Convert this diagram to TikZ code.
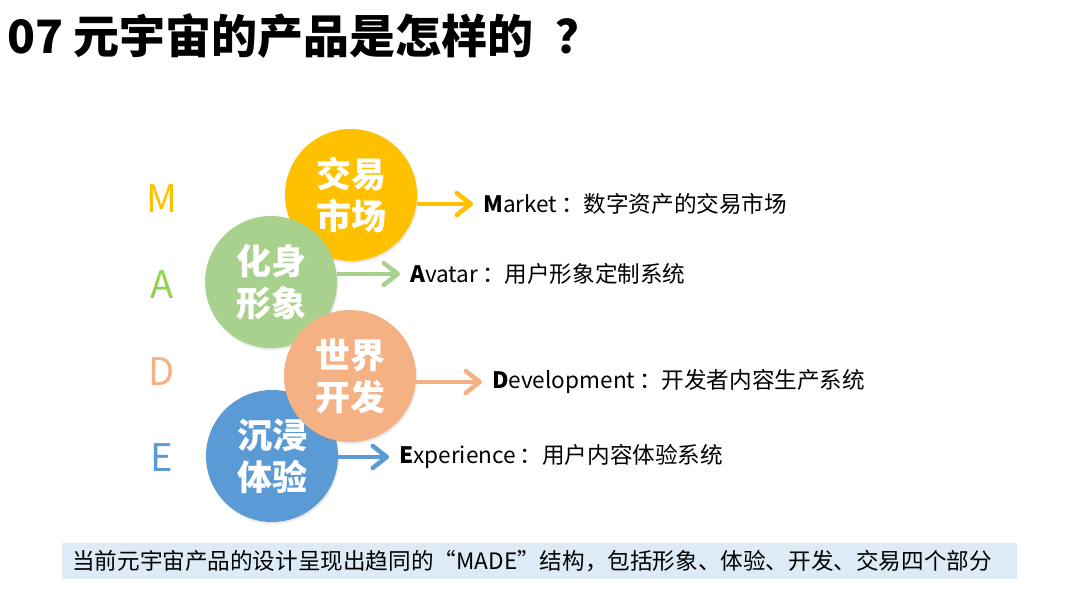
\documentclass[tikz,border=0pt]{standalone}
\usepackage{fontspec}
\setmainfont{Noto Sans CJK SC}
\usepackage{xcolor}
\usepackage{tikz}
\usetikzlibrary{arrows.meta, positioning, shadows}
\definecolor{madeyellow}{HTML}{FFC000}
\definecolor{madegreen}{HTML}{A9D18E}
\definecolor{madelime}{HTML}{92D050}
\definecolor{madeorange}{HTML}{F4B183}
\definecolor{madeblue}{HTML}{5B9BD5}
\definecolor{barblue}{HTML}{DEEBF7}
\tikzset{
  bubble/.style={circle, minimum size=132pt, inner sep=0pt, align=center,
                 text=white, font=\fontsize{35}{42}\selectfont\bfseries,
                 drop shadow={shadow xshift=1pt, shadow yshift=-2pt, opacity=0.18}},
  letter/.style={font=\fontsize{38}{38}\selectfont, inner sep=0pt},
  desc/.style={anchor=west, inner sep=0pt, font=\fontsize{22.6}{22.6}\selectfont},
  pointer/.style={-{Straight Barb[length=14pt, width=22pt, line width=4.5pt, round]},
                  line width=4.5pt, shorten >=10pt},
}
\begin{document}
\begin{tikzpicture}[x=1pt, y=1pt]
  \useasboundingbox (0,0) rectangle (1080,607);
  \node[anchor=west, inner sep=0pt, font=\fontsize{46}{46}\selectfont\bfseries] (title)
    at (7,571) {07 元宇宙的产品是怎样的\hspace{22pt}？};

  % four bubbles
  \node[bubble, fill=madeyellow] (market) at (351,412) {交易\\市场};
  \node[bubble, fill=madeblue] (exper) at (272,151) {沉浸\\体验};
  \node[bubble, fill=madegreen] (avatar) at (271,325) {化身\\形象};
  \node[bubble, fill=madeorange] (devel) at (350,231) {世界\\开发};

  % letters
  \node[letter, text=madeyellow] (m) at (162,408) {M};
  \node[letter, text=madelime] (a) at (162,322) {A};
  \node[letter, text=madeorange] (d) at (162,235) {D};
  \node[letter, text=madeblue] (e) at (162,149) {E};

  % descriptions
  \node[desc] (mtext) at (483,403) {\textbf{M}arket\,：数字资产的交易市场};
  \node[desc] (atext) at (410,333) {\textbf{A}vatar\,：用户形象定制系统};
  \node[desc] (dtext) at (492,225) {\textbf{D}evelopment\,：开发者内容生产系统};
  \node[desc] (etext) at (399,150) {\textbf{E}xperience\,：用户内容体验系统};

  \draw[pointer, draw=madeyellow] (mtext.west -| market.east) -- (mtext.west);
  \draw[pointer, draw=madegreen] (atext.west -| avatar.east) -- (atext.west);
  \draw[pointer, draw=madeorange] (dtext.west -| devel.east) -- (dtext.west);
  \draw[pointer, draw=madeblue] (etext.west -| exper.east) -- (etext.west);

  % summary bar
  \fill[barblue] (62,28) rectangle (1017,64);
  \node[desc] (summary) at (72,46)
    {当前元宇宙产品的设计呈现出趋同的“MADE”结构，包括形象、体验、开发、交易四个部分};
\end{tikzpicture}
\end{document}
